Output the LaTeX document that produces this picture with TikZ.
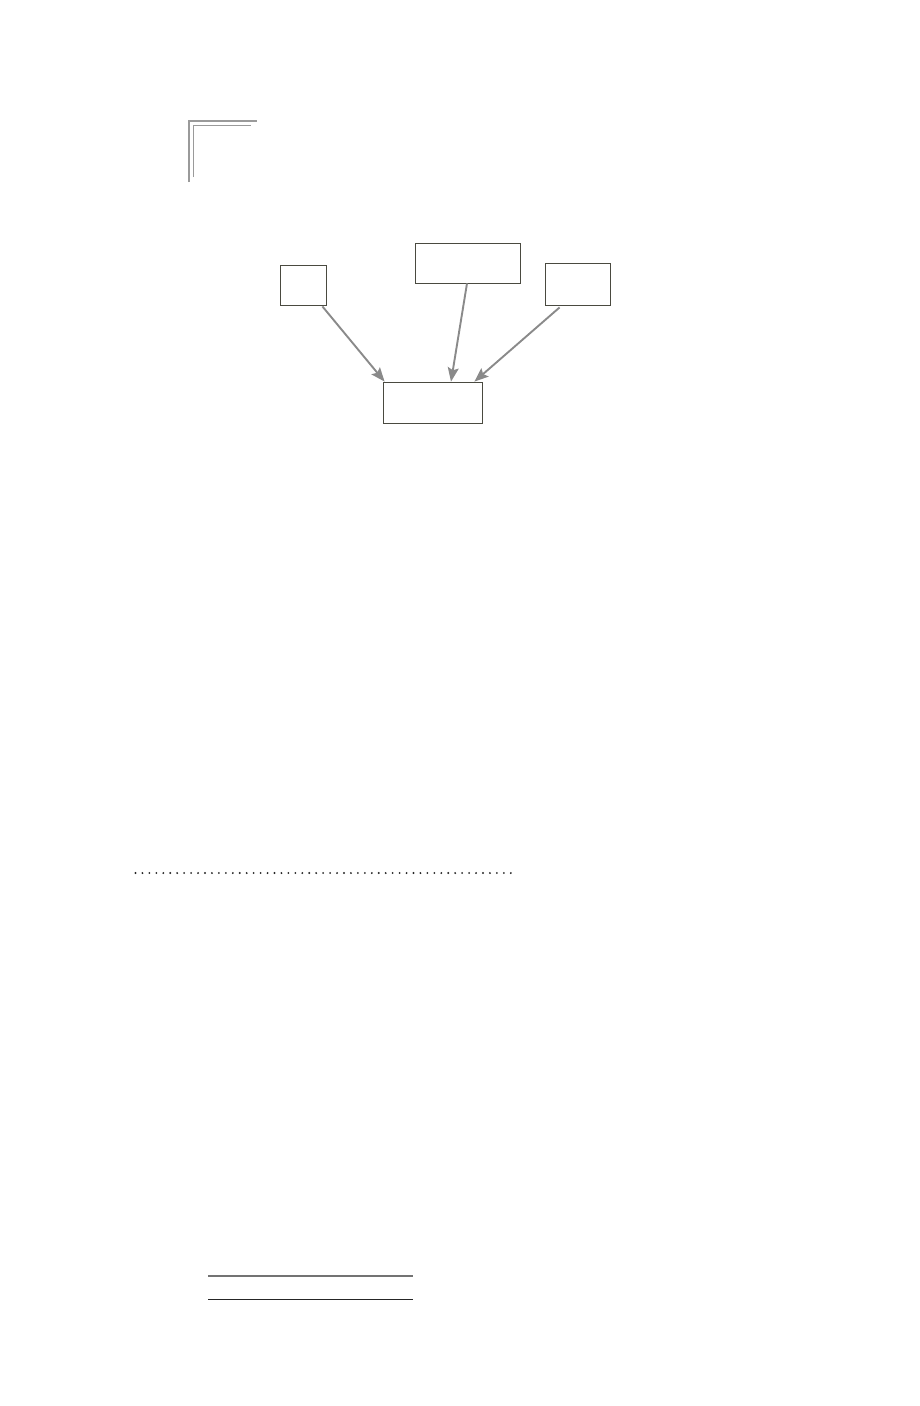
\documentclass[tikz,border=0pt]{standalone}
\usetikzlibrary{arrows.meta}
\definecolor{boxline}{HTML}{4A4A40}
\definecolor{arrowgray}{HTML}{8A8A8A}
\definecolor{markgray}{HTML}{9A9A9A}
\begin{document}
\begin{tikzpicture}[x=1pt,y=-1pt,
  box/.style={draw=boxline,line width=0.8pt,fill=white,inner sep=0pt,minimum width=#1},
  link/.style={draw=arrowgray,line width=1.9pt,-{Stealth[length=14pt,width=11pt,inset=2.5pt]}},
  markline/.style={draw=markgray,line width=1.6pt},
]
\useasboundingbox (0,0) rectangle (920,1406);
% corner mark
\draw[markline] (189,182) -- (189,121) -- (257,121);
\draw[markline] (193.5,177) -- (193.5,125.5) -- (251,125.5);
% boxes
\node[box=46pt,minimum height=40pt] (A) at (303,285) {};
\node[box=105pt,minimum height=40pt] (B) at (467.5,263) {};
\node[box=65pt,minimum height=42pt] (C) at (577.5,284) {};
\node[box=99pt,minimum height=41pt] (D) at (432.5,402.5) {};
% connectors
\draw[link] ([xshift=-4pt,yshift=-1pt]A.south east) -- ([xshift=2pt]D.north west);
\draw[link] ([xshift=-0.5pt]B.south) -- ([xshift=18.5pt]D.north);
\draw[link] ([xshift=15pt,yshift=-2pt]C.south west) -- ([xshift=-8pt]D.north east);
% dotted rule
\draw[line width=2.1pt,draw=black!85,dash pattern=on 0pt off 6.95pt,line cap=round] (135.5,873) -- (512,873);
% bottom rules
\draw[line width=1.3pt,draw=gray!90!black] (208,1276) -- (413,1276);
\draw[line width=1.1pt,draw=black!85] (208,1299.5) -- (413,1299.5);
\end{tikzpicture}
\end{document}
